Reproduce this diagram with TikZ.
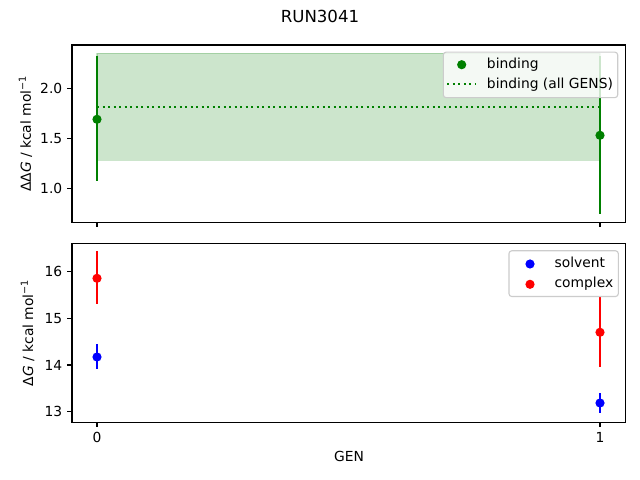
\documentclass[tikz,border=0pt]{standalone}
\usepackage{fontspec}
\setmainfont{DejaVu Sans}
\definecolor{mgreen}{HTML}{008000}
\definecolor{mred}{HTML}{FF0000}
\definecolor{mblue}{HTML}{0000FF}
\definecolor{legedge}{HTML}{CCCCCC}
\begin{document}
\begin{tikzpicture}[x=0.01in,y=-0.01in,
  frame/.style={line width=0.8pt,black},
  tickmark/.style={line width=0.8pt,black},
  ylab/.style={anchor=base east,inner sep=0pt,font=\fontsize{10}{12}\selectfont},
  xlab/.style={anchor=base,inner sep=0pt,font=\fontsize{10}{12}\selectfont},
  leglab/.style={anchor=base west,inner sep=0pt,font=\fontsize{10}{12}\selectfont},
  axlab/.style={anchor=base,inner sep=0pt,rotate=90,font=\fontsize{10}{12}\selectfont},
  errbar/.style={line width=1.5pt},
  legbox/.style={draw=legedge,line width=0.8pt,fill=white,fill opacity=0.8,rounded corners=2pt},
  dotline/.style={mgreen,line width=1.5pt,dash pattern=on 1.5pt off 2.475pt}]
\useasboundingbox[fill=white] (0,0) rectangle (640,480);

% ---------- title ----------
\node[anchor=base,inner sep=0pt,font=\fontsize{12}{14}\selectfont] (title) at (320,22.7) {RUN3041};

% ---------- top axes ----------
\fill[mgreen,fill opacity=0.2] (97,53.3) rectangle (600,160.3);
\draw[mgreen,opacity=0.2,line width=1pt] (97,53.3) rectangle (600,160.3);
\draw[dotline] (97,107) -- (600,107);
\coordinate (g0t) at (97,56);
\coordinate (g0b) at (97,180.7);
\coordinate (g1t) at (600,56);
\coordinate (g1b) at (600,214.3);
\draw[mgreen,errbar] (g0t) -- (g0b);
\draw[mgreen,errbar] (g1t) -- (g1b);
\fill[mgreen] (97,119.3) circle[radius=4.6];
\fill[mgreen] (600,135.3) circle[radius=4.6];
\draw[frame] (72,45) rectangle (625.8,222.5);
\foreach \yy/\lab in {88.3/2.0,138.3/1.5,188.3/1.0}{
  \draw[tickmark] (67.1,\yy) -- (72,\yy);
  \node[ylab] at (62.5,\yy+5.05) {\lab};
}
\foreach \xx in {97,600}{\draw[tickmark] (\xx,222.5) -- (\xx,227.4);}
\node[axlab] (ylabtop) at (30.8,133.7) {ΔΔ\textit{G} / kcal mol\textsuperscript{−1}};

% legend top
\draw[legbox] (443.3,52.2) rectangle (617.7,97.6);
\fill[mgreen] (461.7,64.7) circle[radius=4.6];
\draw[dotline] (447.3,84) -- (475,84);
\node[leglab] (lb1) at (486.7,68.7) {binding};
\node[leglab] (lb2) at (486.7,88.1) {binding (all GENS)};

% ---------- bottom axes ----------
\draw[mred,errbar] (97,251) -- (97,303.7);
\fill[mred] (97,278.3) circle[radius=4.6];
\draw[mblue,errbar] (97,344) -- (97,368.7);
\fill[mblue] (97,357) circle[radius=4.6];
\draw[mred,errbar] (600,296.5) -- (600,367.3);
\fill[mred] (600,332.3) circle[radius=4.6];
\draw[mblue,errbar] (600,393.3) -- (600,413.3);
\fill[mblue] (600,403) circle[radius=4.6];
\draw[frame] (72,243.3) rectangle (625.8,422.3);
\foreach \yy/\lab in {271.7/16,318.3/15,365/14,411.7/13}{
  \draw[tickmark] (67.1,\yy) -- (72,\yy);
  \node[ylab] at (62.5,\yy+5.05) {\lab};
}
\foreach \xx/\lab in {97/0,600/1}{
  \draw[tickmark] (\xx,422.3) -- (\xx,427.2);
  \node[xlab] at (\xx,442.3) {\lab};
}
\node[axlab] (ylabbot) at (33,332.8) {Δ\textit{G} / kcal mol\textsuperscript{−1}};
\node[anchor=base,inner sep=0pt,font=\fontsize{10}{12}\selectfont] (xlabel) at (349,461.7) {GEN};

% legend bottom
\draw[legbox] (509,250.8) rectangle (618.3,296.5);
\fill[mblue] (530,264) circle[radius=4.6];
\fill[mred] (530,284.3) circle[radius=4.6];
\node[leglab] (ls1) at (554.3,267.7) {solvent};
\node[leglab] (ls2) at (554.3,287.7) {complex};
\end{tikzpicture}
\end{document}
